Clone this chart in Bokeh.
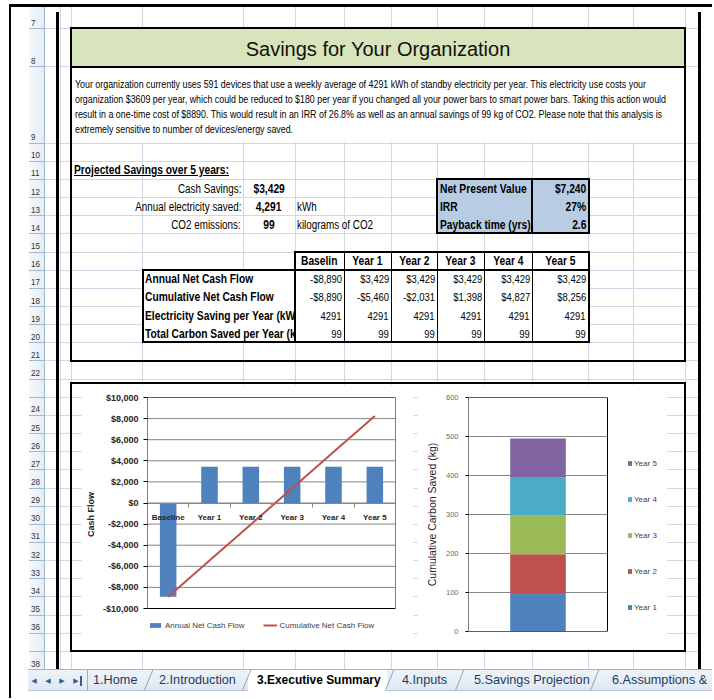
from bokeh.plotting import figure
from bokeh.models import Div, Range1d, FixedTicker, Legend, LegendItem, ColumnDataSource
from bokeh.layouts import column, row
from bokeh.embed import file_html
from bokeh.resources import INLINE

# ---------------- data ----------------
categories = ["Baseline", "Year 1", "Year 2", "Year 3", "Year 4", "Year 5"]
table_headers = ["Baselin", "Year 1", "Year 2", "Year 3", "Year 4", "Year 5"]
annual_net_cash_flow = [-8890, 3429, 3429, 3429, 3429, 3429]
cumulative_net_cash_flow = [-8890, -5460, -2031, 1398, 4827, 8256]
electricity_saving = [4291, 4291, 4291, 4291, 4291, 4291]
carbon_saved = [99, 99, 99, 99, 99, 99]
table_row_labels = ["Annual Net Cash Flow", "Cumulative Net Cash Flow",
                    "Electricity Saving per Year (kWh)", "Total Carbon Saved per Year (kg)"]
carbon_years = ["Year 1", "Year 2", "Year 3", "Year 4", "Year 5"]
carbon_by_year = [99, 99, 99, 99, 99]
carbon_colors = ["#4f81bd", "#c0504d", "#9bbb59", "#4bacc6", "#8064a2"]
cash_ticks = [-10000, -8000, -6000, -4000, -2000, 0, 2000, 4000, 6000, 8000, 10000]
cash_axis_floor = -12180   # extra room below -$10,000 for the legend
carbon_ticks = [0, 100, 200, 300, 400, 500, 600]
carbon_x_extra = 0.4317     # room right of the plot area for the legend
summary_labels = ["Cash Savings:", "Annual electricity saved:", "CO2 emissions:"]
summary_values = ["$3,429", "4,291", "99"]
summary_units = ["", "kWh", "kilograms of CO2"]
kpi_labels = ["Net Present Value", "IRR", "Payback time (yrs)"]
kpi_values = ["$7,240", "27%", "2.6"]
sheet_tabs = ["1.Home", "2.Introduction", "3.Executive Summary", "4.Inputs",
              "5.Savings Projection", "6.Assumptions &"]
title_text = "Savings for Your Organization"
paragraph_lines = [
    "Your organization currently uses 591 devices that use a weekly average of 4291 kWh of standby electricity per year. This electricity use costs your",
    "organization $3609 per year, which could be reduced to $180 per year if you changed all your power bars to smart power bars. Taking this action would",
    "result in a one-time cost of $8890. This would result in an IRR of 26.8% as well as an annual savings of 99 kg of CO2. Please note that this analysis is",
    "extremely sensitive to number of devices/energy saved.",
]


def money(v):
    return ("-$" if v < 0 else "$") + f"{abs(v):,}"


# ---------------- sheet geometry (reference pixel layout) ----------------
GRID = "#d0d7e5"
HDR_BG = "#e4ecf7"
HDR_LINE = "#9eb6ce"
SHEET_FONT = "'Liberation Sans','Arimo',sans-serif"
CHART_FONT = "Liberation Sans"

row_tops = {7: 6.0, 8: 28.0, 9: 66.0}
for k in range(10, 40):
    row_tops[k] = 669 - (39 - k) * 18.15


def rtop(k):
    return row_tops[k]


boundaries = [round(row_tops[k]) for k in range(8, 40)]
COLS = [60, 71, 142, 243, 295, 344, 391, 437, 484, 532, 588, 633, 685]


def rect(ox, oy, x0, y0, x1, y1, style="", inner=""):
    return (f'<div style="position:absolute;left:{x0 - ox:.2f}px;top:{y0 - oy:.2f}px;'
            f'width:{x1 - x0:.2f}px;height:{y1 - y0:.2f}px;box-sizing:border-box;{style}">{inner}</div>')


def narrow(text, origin="left", k=0.82):
    return (f'<span style="display:inline-block;white-space:nowrap;transform:scaleX({k});'
            f'transform-origin:{origin} center;">{text}</span>')


def cell(ox, oy, x0, y0, x1, y1, text, align="left", weight="normal", size=11.5, pad=2,
         extra="", k=0.82):
    justify = {"left": "flex-start", "center": "center", "right": "flex-end"}[align]
    style = (f"display:flex;align-items:flex-end;justify-content:{justify};overflow:hidden;"
             f"white-space:nowrap;padding:0 {pad}px 2px {pad}px;font-family:{SHEET_FONT};"
             f"font-size:{size}px;font-weight:{weight};color:#000;line-height:1;{extra}")
    return rect(ox, oy, x0, y0, x1, y1, style, narrow(text, align, k))


def sheet_bg(ox, oy, w, h):
    parts = []
    for b in boundaries:
        parts.append(rect(ox, oy, 45, b, 698, b + 1, f"background:{GRID}"))
    for c in COLS:
        parts.append(rect(ox, oy, c, 6, c + 1, 669, f"background:{GRID}"))
    parts.append(rect(ox, oy, 29, 6, 45, 669,
                      f"background:linear-gradient(to right,#f5f8fc,{HDR_BG});border-right:1px solid {HDR_LINE}"))
    for b in boundaries:
        parts.append(rect(ox, oy, 29, b, 45, b + 1, f"background:{HDR_LINE}"))
    for kk in range(7, 39):
        yb = row_tops[kk + 1]
        if yb - 13 >= oy and yb <= oy + h and 29 >= ox and 44 <= ox + w:
            parts.append(cell(ox, oy, 29, yb - 13, 44, yb, str(kk), "left", size=9.5, pad=2,
                              extra="color:#333;padding-bottom:1px;", k=0.85))
    parts.append(rect(ox, oy, 56, 12, 58.5, 669, "background:#000"))
    parts.append(rect(ox, oy, 698, 12, 700.5, 669, "background:#000"))
    parts.append(rect(ox, oy, 8.5, 4, 10.5, 700, "background:#000"))
    parts.append(rect(ox, oy, 8.5, 4, 714, 6.5, "background:#000"))
    return parts


def chart_box(ox, oy):
    return rect(ox, oy, 70, 382, 686, 651.5, "border:2px solid #000")


def make_div(ox, oy, w, h, extra_parts):
    html = "".join(sheet_bg(ox, oy, w, h) + extra_parts + [chart_box(ox, oy)])
    return Div(text=f'<div style="position:relative;display:block;width:{w}px;height:{h}px;overflow:hidden;background:#fff;">{html}</div>',
               width=w, height=h, margin=(0, 0, 0, 0),
               styles={"overflow": "hidden", "line-height": "0"})


# ---------------- top part of the sheet ----------------
OX, OY = 0, 0
top = []
top.append(rect(OX, OY, 70, 27, 686, 68,
                "background:#d8e4bc;border:2px solid #000;display:flex;align-items:center;justify-content:center;"
                f"font-family:{SHEET_FONT};font-size:20px;line-height:1;color:#111;padding-top:2px;",
                title_text))
top.append(rect(OX, OY, 72, 68, 684, 142, "background:#fff"))
for i, line in enumerate(paragraph_lines):
    yc = 84 + 15 * i
    top.append(rect(OX, OY, 75, yc - 7.5, 684, yc + 7.5,
                    f"white-space:nowrap;overflow:hidden;font-family:{SHEET_FONT};font-size:11px;"
                    "line-height:15px;color:#000;", narrow(line, "left", 0.805)))
top.append(rect(OX, OY, 70, 27, 686, 361.5, "border:2px solid #000"))

top.append(cell(OX, OY, 72, rtop(11), 300, rtop(12), "Projected Savings over 5 years:", "left", "bold", 12.5,
                extra="text-decoration:underline;"))
for i in range(3):
    y0, y1 = rtop(12 + i), rtop(13 + i)
    top.append(cell(OX, OY, 120, y0, 243, y1, summary_labels[i], "right", size=12))
    top.append(cell(OX, OY, 243, y0, 295, y1, summary_values[i], "center", "bold", 12.5))
    top.append(cell(OX, OY, 295, y0, 420, y1, summary_units[i], "left", size=12))

top.append(rect(OX, OY, 436, rtop(12) - 1, 590, rtop(15) + 1, "background:#b8cce4;border:2px solid #000"))
top.append(rect(OX, OY, 531, rtop(12) - 1, 533, rtop(15) + 1, "background:#000"))
for i in range(3):
    y0, y1 = rtop(12 + i), rtop(13 + i)
    top.append(cell(OX, OY, 438, y0, 531, y1, kpi_labels[i], "left", "bold", 12.5))
    top.append(cell(OX, OY, 533, y0, 588, y1, kpi_values[i], "right", "bold", 12.5))

col_edges = [295, 344, 391, 437, 484, 532, 588]
hdr_top, hdr_bot, body_bot = rtop(16), rtop(17), rtop(21)
top.append(rect(OX, OY, 295, hdr_top, 588, body_bot, "background:#fff"))
top.append(rect(OX, OY, 142, hdr_bot, 295, body_bot, "background:#fff"))
for i, h in enumerate(table_headers):
    top.append(cell(OX, OY, col_edges[i], hdr_top, col_edges[i + 1], hdr_bot, h, "center", "bold", 12.5))
table_rows = [[money(v) for v in annual_net_cash_flow],
              [money(v) for v in cumulative_net_cash_flow],
              [str(v) for v in electricity_saving],
              [str(v) for v in carbon_saved]]
for r, (lab, vals) in enumerate(zip(table_row_labels, table_rows)):
    y0, y1 = rtop(17 + r), rtop(18 + r)
    top.append(cell(OX, OY, 143, y0, 295, y1, lab, "left", "bold", 12.5, pad=2))
    for i, v in enumerate(vals):
        top.append(cell(OX, OY, col_edges[i], y0, col_edges[i + 1], y1, v, "right", size=11.5))
for c in col_edges[1:-1]:
    top.append(rect(OX, OY, c - 0.5, hdr_top, c + 0.5, body_bot, "background:#000"))
top.append(rect(OX, OY, 294, hdr_top - 1, 589.5, hdr_bot + 1, "border:2px solid #000"))
top.append(rect(OX, OY, 141.5, hdr_bot - 1, 296, body_bot + 1, "border:2px solid #000"))
top.append(rect(OX, OY, 294, hdr_bot - 1, 589.5, body_bot + 1, "border:2px solid #000"))

top_div = make_div(0, 0, 712, 385, top)

# ---------------- middle strips ----------------
left_div = make_div(0, 385, 82, 264, [])
gap_div = make_div(413, 385, 5, 264, [])
right_div = make_div(667, 385, 45, 264, [])

# ---------------- bottom (row 38 + tabs) ----------------
BX, BY = 0, 649
bottom = []
bottom.append(rect(BX, BY, 28, 669, 714, 691,
                   "background:linear-gradient(#eef3f9,#dfe8f3);border-top:1px solid #9eb6ce;border-bottom:1px solid #b7c8dc"))
bottom.append(rect(BX, BY, 248, 670, 387, 691, "background:#fff"))
for i, arrow in enumerate(["\u25c0", "\u25c0", "\u25b6", "\u25b6"]):
    x0 = 29 + 14 * i
    bottom.append(rect(BX, BY, x0, 673, x0 + 10, 689,
                       "display:flex;align-items:center;justify-content:center;font-family:'DejaVu Sans';"
                       "font-size:7px;line-height:1;color:#3c5a88;", arrow))
bottom.append(rect(BX, BY, 80, 676, 81.5, 686, "background:#3c5a88"))
bottom.append(rect(BX, BY, 87, 670, 88, 691, "background:#9aadc6"))
tab_x = [(93, 141), (159, 240), (257, 384), (402, 450), (474, 585), (612, 714)]
for (x0, x1), name in zip(tab_x, sheet_tabs):
    active = name.startswith("3.")
    bottom.append(cell(BX, BY, x0, 669, x1 + 20, 691, name, "left",
                       "bold" if active else "normal", 13 if active else 13.5, pad=0,
                       extra=("color:#000;" if active else "color:#1f3a62;") + "padding-bottom:5px;",
                       k=0.92 if active else 0.94))
for sx in [148, 246, 389, 459, 594]:
    bottom.append(rect(BX, BY, sx, 670, sx + 1, 691,
                       "border-left:1px solid #8ea3bf;transform:skewX(-22deg);"))
bottom_div = make_div(BX, BY, 712, 49, bottom)

# ---------------- chart 1: cash flow ----------------
idx = list(range(len(categories)))
p1 = figure(width=331, height=264, x_range=Range1d(idx[0] - 0.5, idx[-1] + 0.5),
            y_range=Range1d(cash_axis_floor, cash_ticks[-1]),
            output_backend="svg", toolbar_location=None,
            min_border_left=65, min_border_right=18, min_border_top=12, min_border_bottom=18)
p1.segment(x0=idx[0] - 0.5, x1=idx[-1] + 0.5, y0=cash_ticks, y1=cash_ticks, line_color="#868686", line_width=1)
bars = p1.vbar(x=idx, top=annual_net_cash_flow, width=0.4, fill_color="#4f81bd", line_color=None)
cum_line = p1.line(idx, cumulative_net_cash_flow, line_color="#c0504d", line_width=2)
p1.quad(left=idx[0] - 0.5, right=idx[-1] + 0.5, bottom=cash_ticks[0], top=cash_ticks[-1],
        fill_color=None, line_color="#000000", line_width=1)
p1.background_fill_color = "#ffffff"
p1.border_fill_color = "#ffffff"
p1.outline_line_color = None
p1.xgrid.visible = False
p1.ygrid.visible = False

xa = p1.xaxis[0]
xa.fixed_location = 0
xa.ticker = FixedTicker(ticks=idx, minor_ticks=[i - 0.5 for i in idx] + [idx[-1] + 0.5])
xa.major_label_overrides = {i: c for i, c in zip(idx, categories)}
xa.major_tick_line_color = None
xa.minor_tick_in = 0
xa.minor_tick_out = 4
xa.minor_tick_line_color = "#868686"
xa.axis_line_color = "#868686"
xa.major_label_standoff = 4
xa.major_label_text_font = CHART_FONT
xa.major_label_text_font_size = "8px"
xa.major_label_text_font_style = "bold"
xa.major_label_text_color = "#262626"

ya = p1.yaxis[0]
ya.ticker = FixedTicker(ticks=cash_ticks)
ya.major_label_overrides = {v: money(v) for v in cash_ticks}
ya.major_label_text_font = CHART_FONT
ya.major_label_text_font_size = "9px"
ya.major_label_text_font_style = "bold"
ya.major_label_text_color = "#262626"
ya.major_tick_in = 0
ya.major_tick_out = 4
ya.minor_tick_line_color = None
ya.axis_line_color = None
ya.major_label_standoff = 5
ya.axis_label = "Cash Flow"
ya.axis_label_text_font = CHART_FONT
ya.axis_label_text_font_size = "9px"
ya.axis_label_text_font_style = "bold"
ya.axis_label_text_color = "#262626"
ya.axis_label_standoff = 4

leg1 = Legend(items=[LegendItem(label="Annual Net Cash Flow", renderers=[bars]),
                     LegendItem(label="Cumulative Net Cash Flow", renderers=[cum_line])],
              orientation="horizontal", location=(1, 1),
              glyph_width=14, glyph_height=6, label_height=10, label_standoff=3, spacing=18,
              padding=0, margin=0, border_line_color=None, background_fill_alpha=0,
              label_text_font=CHART_FONT, label_text_font_size="8px", label_text_color="#404040")
p1.add_layout(leg1)

# ---------------- chart 2: cumulative carbon ----------------
p2 = figure(width=249, height=264, x_range=Range1d(-0.5, 0.5 + carbon_x_extra),
            y_range=Range1d(carbon_ticks[0], carbon_ticks[-1]),
            output_backend="svg", toolbar_location=None,
            min_border_left=50, min_border_right=0, min_border_top=12, min_border_bottom=18)
p2.segment(x0=-0.5, x1=0.5, y0=carbon_ticks, y1=carbon_ticks, line_color="#868686", line_width=1)
src = ColumnDataSource({"x": [0], **{y: [v] for y, v in zip(carbon_years, carbon_by_year)}})
stack = p2.vbar_stack(carbon_years, x="x", width=0.4, color=carbon_colors, source=src, line_color=None)
p2.quad(left=-0.5, right=0.5, bottom=carbon_ticks[0], top=carbon_ticks[-1],
        fill_color=None, line_color="#000000", line_width=1)
p2.background_fill_color = "#ffffff"
p2.border_fill_color = "#ffffff"
p2.outline_line_color = None
p2.xaxis.visible = False
p2.xgrid.visible = False
p2.ygrid.visible = False
ya2 = p2.yaxis[0]
ya2.ticker = FixedTicker(ticks=carbon_ticks)
ya2.major_label_text_font = CHART_FONT
ya2.major_label_text_font_size = "7.5px"
ya2.major_label_text_color = "#6a6a6a"
ya2.major_tick_in = 0
ya2.major_tick_out = 3
ya2.minor_tick_line_color = None
ya2.axis_line_color = None
ya2.major_label_standoff = 7
ya2.axis_label = "Cumulative Carbon Saved (kg)"
ya2.axis_label_text_font = CHART_FONT
ya2.axis_label_text_font_size = "10.5px"
ya2.axis_label_text_font_style = "normal"
ya2.axis_label_text_color = "#262626"
ya2.axis_label_standoff = 5

leg2 = Legend(items=[LegendItem(label=y, renderers=[r]) for y, r in reversed(list(zip(carbon_years, stack)))],
              orientation="vertical", location=(159, 19),
              glyph_width=5, glyph_height=6, label_height=10, label_standoff=2, spacing=26,
              padding=0, margin=0, border_line_color=None, background_fill_alpha=0,
              label_text_font=CHART_FONT, label_text_font_size="8px", label_text_color="#404040")
p2.add_layout(leg2)

# ---------------- layout ----------------
middle = row(left_div, p1, gap_div, p2, right_div, spacing=0)
layout = column(top_div, middle, bottom_div, spacing=0)

open("out.html", "w").write(file_html(layout, INLINE))
